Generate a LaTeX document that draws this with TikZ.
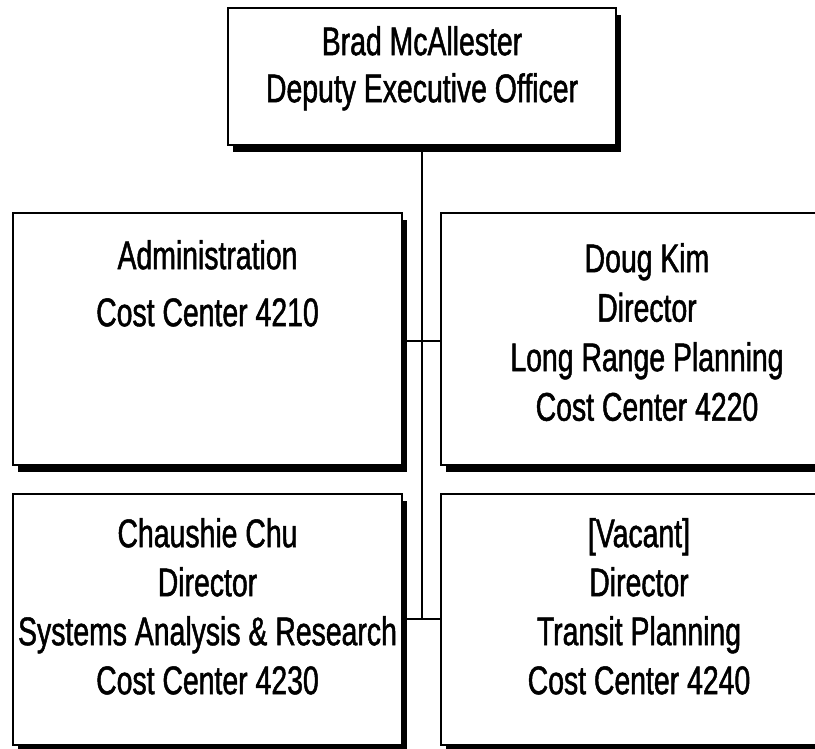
\documentclass[tikz,border=0pt]{standalone}
\usepackage{fontspec}
\setmainfont[FakeStretch=0.71,FakeBold=1.2]{Liberation Sans}
\usetikzlibrary{backgrounds,shadows}
\begin{document}
\begin{tikzpicture}[x=1pt,y=-1pt,
  box/.style={draw=black, line width=2pt, fill=white, rectangle, inner sep=0pt,
    drop shadow={shadow xshift=5pt, shadow yshift=-7pt, fill=black, opacity=1}},
  txt/.style={align=center, inner sep=0pt, anchor=north, font=\fontsize{40}{48}\selectfont},
  conn/.style={line width=1.6pt}]
\useasboundingbox (0,0) rectangle (815,749);
\clip (0,0) rectangle (815,749);
% boxes
\node[box, minimum width=388pt, minimum height=137pt] (top) at (422,76.5) {};
\node[box, minimum width=389pt, minimum height=252pt] (midL) at (207.5,339) {};
\node[box, minimum width=412pt, minimum height=252pt] (midR) at (647,339) {};
\node[box, minimum width=389pt, minimum height=251pt] (botL) at (207.5,619.5) {};
\node[box, minimum width=396pt, minimum height=251pt] (botR) at (639,619.5) {};
% texts
\node[txt, font=\fontsize{40}{47}\selectfont] (topT) at (422,26) {Brad McAllester\\Deputy Executive Officer};
\node[txt, font=\fontsize{40}{57}\selectfont] (midLT) at (207.5,240) {Administration\\Cost Center 4210};
\node[txt, font=\fontsize{40}{49.5}\selectfont] (midRT) at (647,243) {Doug Kim\\Director\\Long Range Planning\\Cost Center 4220};
\node[txt, font=\fontsize{40}{49}\selectfont] (botLT) at (207.5,518) {Chaushie Chu\\Director\\Systems Analysis \& Research\\Cost Center 4230};
\node[txt, font=\fontsize{40}{49}\selectfont] (botRT) at (639,518) {[Vacant]\\Director\\Transit Planning\\Cost Center 4240};
% connectors
\coordinate (j1) at (422,341);
\coordinate (j2) at (422,619);
\begin{scope}[on background layer]
\fill[white] (0,0) rectangle (815,749);
\draw[conn] (top.south) -- (j2);
\draw[conn] (midL.east |- j1) -- (midR.west |- j1);
\draw[conn] (botL.east |- j2) -- (botR.west |- j2);
\end{scope}
\end{tikzpicture}
\end{document}
